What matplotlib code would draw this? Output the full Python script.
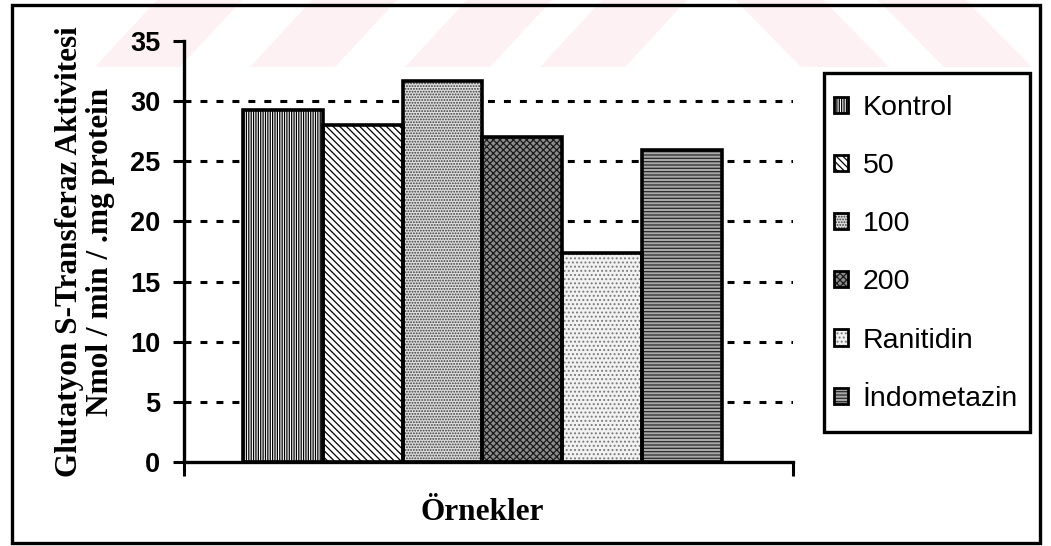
import matplotlib
matplotlib.use("Agg")
import matplotlib.pyplot as plt
from matplotlib.patches import Rectangle, Polygon, Patch
from matplotlib.legend_handler import HandlerTuple
import numpy as np

# ---- data ----
series_names = ["Kontrol", "50", "100", "200", "Ranitidin", "İndometazin"]
values = [29.3, 28.0, 31.7, 27.0, 17.4, 25.9]
yticks = [0, 5, 10, 15, 20, 25, 30, 35]
ylabel_lines = ["Glutatyon S-Transferaz Aktivitesi", "Nmol / min / .mg protein"]
xlabel = "Örnekler"

# ---- styles (grayscale patterns) ----
face_colors = ["#ffffff", "#ffffff", "#dedede", "#8c8c8c", "#f2f2f2", "#a8a8a8"]
hatch_colors = ["#000000", "#000000", "#3a3a3a", "#1a1a1a", "#7a7a7a", "#2a2a2a"]
hatches = ["|||||||", "\\\\\\\\\\", "......", "xxxxx", "....", "-----"]

plt.rcParams["hatch.linewidth"] = 0.9
plt.rcParams["lines.scale_dashes"] = False

W, H = 1051, 546
fig = plt.figure(figsize=(W / 100, H / 100), dpi=100)
fig.patch.set_facecolor("white")

def fx(px):
    return px / W

def fy(py):
    return 1 - py / H

# faint watermark stripes at the top
wm_color = "#fef1f4"
band_bottom = 67
for x0 in [95, 250, 405, 540]:
    poly = Polygon([(fx(x0), fy(band_bottom)), (fx(x0 + 85), fy(band_bottom)),
                    (fx(x0 + 85 + 62), fy(0)), (fx(x0 + 62), fy(0))],
                   closed=True, transform=fig.transFigure, facecolor=wm_color,
                   edgecolor="none", zorder=-2)
    fig.add_artist(poly)
for x0 in [735, 878]:
    poly = Polygon([(fx(x0), fy(0)), (fx(x0 + 88), fy(0)),
                    (fx(x0 + 88 + 66), fy(band_bottom)), (fx(x0 + 66), fy(band_bottom))],
                   closed=True, transform=fig.transFigure, facecolor=wm_color,
                   edgecolor="none", zorder=-2)
    fig.add_artist(poly)

# axes placement
ax_l, ax_r, ax_t, ax_b = 184, 793, 41, 462
ax = fig.add_axes([fx(ax_l), fy(ax_b), fx(ax_r - ax_l), (ax_b - ax_t) / H])
ax.patch.set_alpha(0)

ax.set_xlim(0, 1)
ax.set_ylim(0, 35)

# gridlines
for t in yticks[1:-1]:
    ax.axhline(t, color="black", lw=2.2, linestyle=(0, (5.0, 6.5)), zorder=1)

# bars
n = len(values)
bw = 0.131
center = 0.49
xs = center + (np.arange(n) - (n - 1) / 2) * bw
handles = []
for i in range(n):
    ax.bar(xs[i], values[i], width=bw, facecolor=face_colors[i],
           edgecolor=hatch_colors[i], hatch=hatches[i], linewidth=0, zorder=2)
    ax.bar(xs[i], values[i], width=bw, fill=False, edgecolor="black",
           linewidth=2.6, zorder=3)
    h1 = Patch(facecolor=face_colors[i], edgecolor=hatch_colors[i], hatch=hatches[i], linewidth=0)
    h2 = Patch(fill=False, edgecolor="black", linewidth=2.0)
    handles.append((h1, h2))

# spines and ticks
for s in ["top", "right"]:
    ax.spines[s].set_visible(False)
for s in ["left", "bottom"]:
    ax.spines[s].set_linewidth(2.4)
ax.set_yticks(yticks)
ax.set_yticklabels([str(t) for t in yticks], fontfamily="Liberation Sans",
                   fontweight="bold", fontsize=19.5)
ax.tick_params(axis="y", direction="out", length=8, width=2.2, pad=9)
ax.set_xticks([0, 1])
ax.set_xticklabels(["", ""])
ax.tick_params(axis="x", direction="out", length=10, width=2.2)

ax.set_ylabel("\n".join(ylabel_lines), fontfamily="Liberation Serif",
              fontweight="bold", fontsize=22.5, linespacing=1.1, labelpad=11)
fig.text(fx(482), fy(512), xlabel, fontfamily="Liberation Serif", fontweight="bold",
         fontsize=22.5, ha="center", va="center")

# legend box (drawn separately so the long label can touch the border)
lbox = Rectangle((fx(824), fy(432)), fx(1030 - 824), (432 - 73) / H,
                 transform=fig.transFigure, facecolor="white", edgecolor="black",
                 linewidth=2.4, zorder=4)
fig.add_artist(lbox)

leg = fig.legend(handles, series_names, handler_map={tuple: HandlerTuple(ndivide=1, pad=0)},
                 loc="upper left", bbox_to_anchor=(fx(824), fy(85)),
                 bbox_transform=fig.transFigure, frameon=False,
                 prop={"family": "Liberation Sans", "size": 20.5},
                 handlelength=0.5, handleheight=0.5, handletextpad=0.5,
                 labelspacing=1.13, borderpad=0.35, borderaxespad=0)
leg.set_zorder(6)

# outer frame
frame = Rectangle((fx(12), fy(543)), fx(1040 - 12), (543 - 5) / H,
                  transform=fig.transFigure, fill=False, edgecolor="black",
                  linewidth=2.4, zorder=10)
fig.add_artist(frame)

fig.savefig("out.png", dpi=100)
